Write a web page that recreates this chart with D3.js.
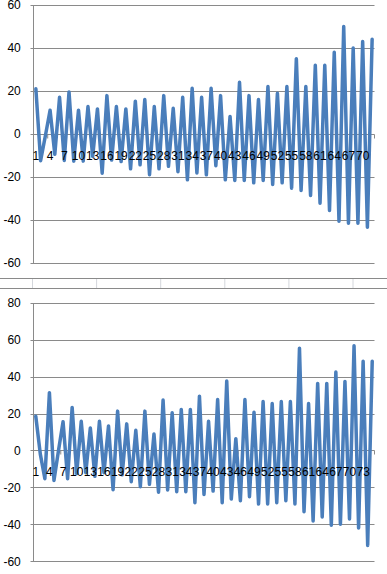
<!DOCTYPE html>
<html>
<head>
<meta charset="utf-8">
<script src="https://cdn.jsdelivr.net/npm/d3@7"></script>
<style>
  html, body { margin: 0; padding: 0; background: #ffffff; }
  svg { display: block; }
  text { font-family: "Liberation Sans", Arial, sans-serif; }
</style>
</head>
<body>
<svg id="chart" width="387" height="574"></svg>
<script>
// ---------- DATA ----------
const topCategories = d3.range(1, 73);      // 72 categories
const topValues = [
  21, -12.5, -1, 11, -9.5, 17, -12.4, 19.5, -12.7, 11,
  -12.7, 12.7, -10.5, 11.6, -18.3, 17.8, -12.2, 12.7, -12.9, 11.6,
  -16.3, 15.2, -14.4, 16, -19, 12.7, -16.3, 17.8, -15.1, 11.9,
  -17.6, 17, -21.4, 21.2, -18.2, 17, -19.1, 21.2, -14.8, 17.8,
  -21.4, 8.1, -21.7, 24, -21.7, 17.8, -22.8, 16, -21.7, 22,
  -23.6, 18.9, -22.8, 22, -25.3, 35, -26.4, 22, -28.7, 31.9,
  -32.3, 31.9, -35.7, 38, -40.7, 50, -41.6, 40, -41.6, 43,
  -43.5, 44
];
const topTicks = [60, 40, 20, 0, -20, -40, -60];

const bottomCategories = d3.range(1, 76);   // 75 categories
const bottomValues = [
  18.5, -2, -15.3, 31.3, -16.2, 0, 15.6, -15.3, 23.3, -12.5,
  15.8, -12, 12.2, -14, 15.8, -12, 13.3, -21.2, 21.3, -13.2,
  14.4, -16.9, 10.9, -19.6, 21.3, -18.3, 8.9, -22.6, 27.3, -21.4,
  20.4, -22.3, 22.2, -22.3, 22.2, -28.3, 29.4, -23.8, 15.8, -22,
  27.6, -28.3, 37.6, -26.3, 6.4, -27.2, 27.6, -25, 20.7, -29,
  26.5, -29, 25.4, -28.3, 26.5, -27.2, 26.5, -29, 55.4, -33.2,
  25.4, -38.2, 36.3, -36, 36.3, -40.5, 42.5, -39.9, 37.4, -37.1,
  56.7, -42, 48.3, -51.4, 48.3
];
const bottomTicks = [80, 60, 40, 20, 0, -20, -40, -60];

const labelEvery = 3;

// ---------- LAYOUT ----------
const svg = d3.select("#chart");
const W = 387;
const plotLeft = 33.5, plotRight = 374.5;
const gridColor = "#8a8a8a";
const lineColor = "#4a7ebb";
const fontSize = 12;

// worksheet strip between the two chart objects
const strip = svg.append("g");
const colBoundaries = [0, 1, 2, 3, 4, 5].map(i => 32.5 + i * 64.1);
strip.selectAll("line.col").data(colBoundaries).join("line")
  .attr("x1", d => d).attr("x2", d => d)
  .attr("y1", 278.5).attr("y2", 288.5)
  .attr("stroke", "#d4d7dc").attr("stroke-width", 1);
[278.5, 288.5].forEach(yy => {
  strip.append("line").attr("x1", 0).attr("x2", W)
    .attr("y1", yy).attr("y2", yy)
    .attr("stroke", gridColor).attr("stroke-width", 1);
});

function drawChart(categories, values, ticks, yTopPx, yBottomPx) {
  const g = svg.append("g");
  const x = d3.scaleBand().domain(categories).range([plotLeft, plotRight]).padding(0);
  const cx = c => x(c) + x.bandwidth() / 2;
  const y = d3.scaleLinear()
    .domain([d3.min(ticks), d3.max(ticks)])
    .range([yBottomPx, yTopPx]);

  // horizontal gridlines (extending slightly left as tick marks)
  g.selectAll("line.grid").data(ticks).join("line")
    .attr("class", "grid")
    .attr("x1", plotLeft - 3).attr("x2", plotRight)
    .attr("y1", d => Math.round(y(d)) + 0.5).attr("y2", d => Math.round(y(d)) + 0.5)
    .attr("stroke", gridColor).attr("stroke-width", 1);

  // vertical value axis line
  g.append("line")
    .attr("x1", Math.round(plotLeft) - 0.5).attr("x2", Math.round(plotLeft) - 0.5)
    .attr("y1", Math.round(y(d3.max(ticks))) + 0.5)
    .attr("y2", Math.round(y(d3.min(ticks))) + 0.5)
    .attr("stroke", gridColor).attr("stroke-width", 1);

  // y tick labels
  g.selectAll("text.ylab").data(ticks).join("text")
    .attr("class", "ylab")
    .attr("x", 20.8)
    .attr("y", d => y(d))
    .attr("dy", "0.35em")
    .attr("text-anchor", "end")
    .attr("font-size", fontSize)
    .attr("fill", "#000")
    .text(d => d);

  // category axis tick marks at every 3rd category boundary
  const y0 = Math.round(y(0)) + 0.5;
  const tickBounds = categories.filter(c => c % labelEvery === 0).map(c => x(c) + x.bandwidth());
  g.selectAll("line.xtick").data(tickBounds).join("line")
    .attr("x1", d => d).attr("x2", d => d)
    .attr("y1", y0).attr("y2", y0 + 4)
    .attr("stroke", gridColor).attr("stroke-width", 1);

  // the series line
  const line = d3.line()
    .x((d, i) => cx(categories[i]))
    .y(d => y(d));
  g.append("path")
    .datum(values)
    .attr("d", line)
    .attr("fill", "none")
    .attr("stroke", lineColor)
    .attr("stroke-width", 3.5)
    .attr("stroke-linejoin", "round")
    .attr("stroke-linecap", "round");

  // category labels (every 3rd), drawn on top
  const labelCats = categories.filter((c, i) => i % labelEvery === 0);
  g.selectAll("text.xlab").data(labelCats).join("text")
    .attr("class", "xlab")
    .attr("x", d => cx(d))
    .attr("y", y(0) + 26)
    .attr("text-anchor", "middle")
    .attr("font-size", fontSize)
    .attr("fill", "#000")
    .text(d => d);
}

drawChart(topCategories, topValues, topTicks, 5, 262.7);
drawChart(bottomCategories, bottomValues, bottomTicks, 302.7, 561.3);
</script>
</body>
</html>
